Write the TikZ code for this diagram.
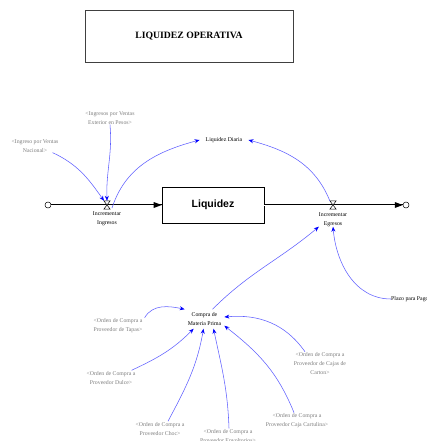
\documentclass[tikz,border=0pt]{standalone}
\usepackage{fontspec}
\setmainfont{Liberation Serif}
\newfontfamily\stocksans{Liberation Sans}
\usetikzlibrary{arrows.meta}
\definecolor{linkblue}{RGB}{95,95,255}
\definecolor{tipblue}{RGB}{0,0,255}
\definecolor{shadowgray}{RGB}{125,125,125}
\begin{document}
\begin{tikzpicture}[x=1pt,y=1pt,
  lbl/.style={font=\fontsize{5.8}{9}\selectfont, text=shadowgray, align=center, inner sep=0pt},
  var/.style={font=\fontsize{5.8}{9}\selectfont, text=black, align=center, inner sep=0pt},
  link/.style={draw=linkblue, line width=0.55pt, -{Stealth[length=5pt,width=4pt,color=tipblue]}},
  pipe/.style={draw=black, line width=0.7pt, double=white, double distance=1pt},
  cloudnode/.style={circle, draw=black, line width=0.5pt, minimum size=6pt, inner sep=0pt, fill=white},
  valvebox/.style={rectangle, minimum width=6pt, minimum height=8pt, inner sep=0pt},
  hourglass/.style={draw=black, line width=0.5pt, fill=white}
]
\useasboundingbox (0,0) rectangle (427,-441);

% title
\node[draw=black!75, line width=0.6pt, minimum width=208pt, minimum height=52pt,
      font=\bfseries\fontsize{9.7}{11}\selectfont] (title) at (189,-36) {LIQUIDEZ OPERATIVA};

% stock and flows
\node[draw=black, line width=0.6pt, minimum width=102pt, minimum height=36pt,
      font=\stocksans\bfseries\fontsize{10.5}{12}\selectfont] (stock) at (213,-205) {Liquidez};
\node[cloudnode] (cloudL) at (48,-205) {};
\node[cloudnode] (cloudR) at (406,-205) {};
\node[valvebox] (vin) at (107,-205) {};
\node[valvebox] (veg) at (333,-205) {};

\draw[pipe] (cloudL.east) -- (stock.west);
\draw[pipe] (stock.east) -- (cloudR.west);
\fill[black] (stock.west) -- ++(-8,3) -- ++(0,-6) -- cycle;
\fill[black] (cloudR.west) -- ++(-8,3) -- ++(0,-6) -- cycle;
\draw[hourglass] (vin.north west) -- (vin.north east) -- (vin.south west) -- (vin.south east) -- cycle;
\draw[hourglass] (veg.north west) -- (veg.north east) -- (veg.south west) -- (veg.south east) -- cycle;

\node[var] (lblIn) at (107,-218.5) {Incrementar\\Ingresos};
\node[var] (lblEg) at (333,-219.5) {Incrementar\\Egresos};

% auxiliaries
\node[var, inner xsep=6pt, inner ysep=1pt] (diaria) at (224,-140) {Liquidez Diaria};
\node[lbl] (ext) at (110,-118) {<Ingresos por Ventas\\Exterior en Pesos>};
\node[lbl] (nac) at (35,-146) {<Ingreso por Ventas\\Nacional>};
\node[var, anchor=west] (plazo) at (391,-299) {Plazo para Pago};
\node[var, inner sep=3pt] (compra) at (204.5,-319) {Compra de\\Materia Prima};

\node[lbl] (tapas) at (118,-326) {<Orden de Compra a\\Proveedor de Tapas>};
\node[lbl] (dulce) at (111,-378) {<Orden de Compra a\\Proveedor Dulce>};
\node[lbl] (choc) at (160,-429) {<Orden de Compra a\\Proveedor Choc>};
\node[lbl] (envol) at (228,-436) {<Orden de Compra a\\Proveedor Envoltorios>};
\node[lbl] (caja) at (297,-421) {<Orden de Compra a\\Proveedor Caja Cartulina>};
\node[lbl] (carton) at (320,-364) {<Orden de Compra a\\Proveedor de Cajas de\\Carton>};

% links
\draw[link] ([xshift=-6pt]nac.south east) to[out=-25,in=125] ([xshift=-3pt]vin.north);
\draw[link] (ext.south) to[out=-85,in=92] (vin.north);
\draw[link] ([xshift=5pt,yshift=-3pt]vin.center) to[out=72,in=195] (diaria.west);
\draw[link] (veg.north west) to[out=112,in=-15] (diaria.east);
\draw[link] (plazo.west) to[out=180,in=-85] (lblEg.south);
\draw[link] ([xshift=8pt]compra.north) to[out=45,in=-140] (lblEg.south west);

\draw[link] ([xshift=2pt,yshift=1pt]tapas.north east) to[out=60,in=168] (compra.north west);
\draw[link] ([xshift=-4pt,yshift=1pt]dulce.north east) to[out=25,in=-135] ([xshift=9pt]compra.south west);
\draw[link] ([xshift=8pt,yshift=1pt]choc.north) to[out=62,in=-100] ([xshift=-1pt]compra.south);
\draw[link] ([xshift=1pt,yshift=1pt]envol.north) to[out=92,in=-78] ([xshift=9pt]compra.south);
\draw[link] ([xshift=-3pt,yshift=1pt]caja.north) to[out=112,in=-38] ([yshift=3pt]compra.south east);
\draw[link] ([xshift=-15pt,yshift=1pt]carton.north) to[out=125,in=5] ([yshift=2pt]compra.east);
\end{tikzpicture}
\end{document}
